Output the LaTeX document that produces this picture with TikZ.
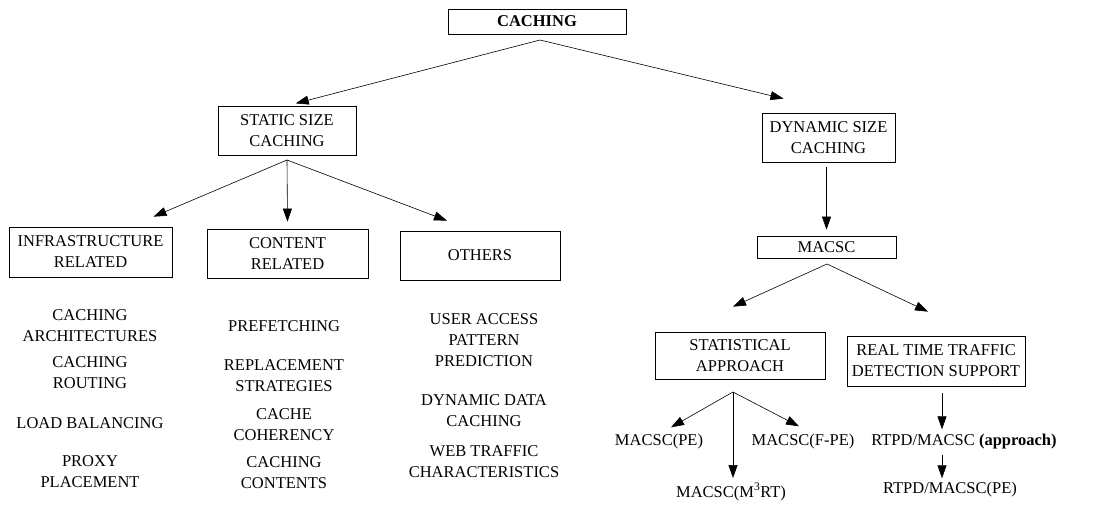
\documentclass[tikz,border=0pt]{standalone}
\usepackage{fontspec}
\setmainfont{Liberation Serif}
\usetikzlibrary{arrows.meta}
\begin{document}
\begin{tikzpicture}[x=1pt,y=-1pt,
  font=\fontsize{16.5}{21}\selectfont,
  box/.style={draw, line width=0.7pt, inner sep=0pt, align=center},
  item/.style={inner sep=0pt, align=center},
  arr/.style={line width=0.6pt, -{Triangle[length=13pt,width=9pt]}}]
\useasboundingbox (0,0) rectangle (1108,506);

% boxes
\node[box, minimum width=178pt, minimum height=25pt, font=\fontsize{16.5}{21}\selectfont\bfseries] (top) at (537,21.5) {CACHING};
\node[box, minimum width=138pt, minimum height=49pt] (static) at (287,130.5) {STATIC SIZE\\CACHING};
\node[box, minimum width=133pt, minimum height=49pt] (dyn) at (828.5,137.5) {DYNAMIC SIZE\\CACHING};
\node[box, minimum width=163pt, minimum height=50pt] (infra) at (90.5,252) {INFRASTRUCTURE\\RELATED};
\node[box, minimum width=161pt, minimum height=49pt] (content) at (287.5,253.5) {CONTENT\\RELATED};
\node[box, minimum width=160pt, minimum height=49pt] (others) at (480,255.5) {OTHERS};
\node[box, minimum width=139pt, minimum height=22pt] (macsc) at (826.5,247) {MACSC};
\node[box, minimum width=170pt, minimum height=47pt] (stat) at (740,355.5) {STATISTICAL\\APPROACH};
\node[box, minimum width=178pt, minimum height=50pt] (rt) at (936,361) {REAL TIME TRAFFIC\\DETECTION SUPPORT};

% plain items under the static-size categories
\node[item] (i1) at (90,326) {CACHING\\ARCHITECTURES};
\node[item] (i2) at (90,373) {CACHING\\ROUTING};
\node[item] (i3) at (90,423) {LOAD BALANCING};
\node[item] (i4) at (90,472) {PROXY\\PLACEMENT};
\node[item] (c1) at (284,326) {PREFETCHING};
\node[item] (c2) at (284,376) {REPLACEMENT\\STRATEGIES};
\node[item] (c3) at (284,425) {CACHE\\COHERENCY};
\node[item] (c4) at (284,473) {CACHING\\CONTENTS};
\node[item] (o1) at (484,340) {USER ACCESS\\PATTERN\\PREDICTION};
\node[item] (o2) at (484,411) {DYNAMIC DATA\\CACHING};
\node[item] (o3) at (484,462) {WEB TRAFFIC\\CHARACTERISTICS};

% leaves of the dynamic-size branch
\node[item] (pe) at (659,442) {MACSC(PE)};
\node[item] (fpe) at (803,442) {MACSC(F-PE)};
\node[item] (mrt) at (731,492) {MACSC(M\textsuperscript{3}RT)};
\node[item] (rta) at (964,442) {RTPD/MACSC \textbf{(approach)}};
\node[item] (rtpe) at (950,490) {RTPD/MACSC(PE)};

% fork points below the parent boxes
\coordinate (f0) at (540,40);
\coordinate (f1) at (287,160);
\coordinate (f2) at (827,264);
\coordinate (f3) at (733,392);

% connectors
\draw[arr, shorten >=9pt] (f0) -- (static.north);
\draw[arr] (f0) -- ([xshift=-45pt,yshift=14pt]dyn.north);
\draw[arr] (f1) -- ([xshift=63pt,yshift=10pt]infra.north);
\draw[arr] (f1) -- ([yshift=7pt]content.north);
\draw[arr] (f1) -- ([xshift=-33pt,yshift=10pt]others.north);
\draw[arr, shorten <=5pt, shorten >=6pt] (dyn.south -| macsc.north) -- (macsc.north);
\draw[arr] (f2) -- ([xshift=-7pt,yshift=25pt]stat.north);
\draw[arr] (f2) -- ([xshift=-8pt,yshift=24pt]rt.north);
\draw[arr] (f3) -- ([xshift=12pt,yshift=7pt]pe.north);
\draw[arr] (f3) -- ([xshift=2pt,yshift=5pt]mrt.north);
\draw[arr] (f3) -- ([xshift=-4pt,yshift=8pt]fpe.north);
\draw[arr, shorten <=7pt] ([xshift=6pt]rt.south) -- ([xshift=-22pt,yshift=5pt]rta.north);
\draw[arr, shorten <=5pt, shorten >=4pt] ([xshift=-22pt]rta.south) -- ([xshift=-8pt]rtpe.north);
\end{tikzpicture}
\end{document}
